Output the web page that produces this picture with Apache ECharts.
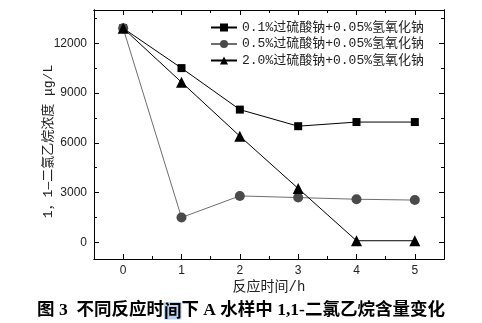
<!DOCTYPE html>
<html>
<head>
<meta charset="utf-8">
<script src="https://cdn.jsdelivr.net/npm/echarts@6/dist/echarts.min.js"></script>
<style>
  html, body { margin: 0; padding: 0; background: #fff; }
  #chart { width: 482px; height: 323px; }
</style>
</head>
<body>
<div id="chart"></div>
<script>
// Reaction time (h)
var hours = [0, 1, 2, 3, 4, 5];
// 1,1-dichloroethane concentration (μg/L) for each oxidant dose
var seriesNames = [
  '0.1%过硫酸钠+0.05%氢氧化钠',
  '0.5%过硫酸钠+0.05%氢氧化钠',
  '2.0%过硫酸钠+0.05%氢氧化钠'
];
var conc01 = [12900, 10500, 8000, 7000, 7250, 7250];
var conc05 = [12900, 1500, 2800, 2700, 2600, 2550];
var conc20 = [12900, 9650, 6400, 3250, 100, 100];
// Axis ticks
var xTicks = [0, 1, 2, 3, 4, 5];
var xMinorTicks = [-0.5, 0.5, 1.5, 2.5, 3.5, 4.5, 5.5];
var yTicks = [0, 3000, 6000, 9000, 12000];
var yMinorTicks = [1500, 4500, 7500, 10500, 13500];

function pairs(vals) {
  return hours.map(function (h, i) { return [h, vals[i]]; });
}

var axisFont = 'Liberation Sans, Arial, sans-serif';
var cjkFont = 'Liberation Mono, Noto Sans CJK SC, sans-serif';
var lineStyle = { color: '#000', width: 1 };

function frameAxis(base, extra) {
  return Object.assign({
    min: base.min, max: base.max, type: 'value',
    axisLine: { show: true, onZero: false, lineStyle: lineStyle },
    splitLine: { show: false },
    axisLabel: { show: false },
    axisTick: { show: false }
  }, extra);
}

var xr = { min: -0.5, max: 5.5 };
var yr = { min: -1000, max: 14000 };

var option = {
  animation: false,
  backgroundColor: '#fff',
  title: {
    left: 'center',
    top: 297,
    text: '{a|图 3  不同反应时}{hl|间}{a|下 A 水样中 1,1-二氯乙烷含量变化}',
    textStyle: {
      rich: {
        a: { fontSize: 17.5, fontWeight: 'bold', color: '#000',
             fontFamily: 'Liberation Serif, Noto Sans CJK SC, serif' },
        hl: { fontSize: 17.5, fontWeight: 'bold', color: '#000', backgroundColor: '#b9d1ea',
              fontFamily: 'Noto Sans CJK SC, sans-serif' }
      }
    }
  },
  grid: { left: 94, right: 38, top: 10, bottom: 64, containLabel: false },
  legend: {
    orient: 'vertical',
    left: 205,
    top: 16,
    itemWidth: 26,
    itemHeight: 10,
    itemGap: 3.5,
    textStyle: { fontSize: 13, color: '#222', fontFamily: cjkFont },
    data: seriesNames
  },
  xAxis: [
    frameAxis(xr, {
      position: 'bottom',
      name: '反应时间/h',
      nameLocation: 'middle',
      nameGap: 21,
      nameMoveOverlap: false,
      nameTextStyle: { fontSize: 14, color: '#222', fontFamily: cjkFont },
      axisTick: { show: true, inside: true, length: 5, lineStyle: lineStyle, customValues: xTicks },
      axisLabel: { show: true, margin: 6, fontSize: 12, color: '#222', fontFamily: axisFont, customValues: xTicks }
    }),
    frameAxis(xr, {
      position: 'bottom',
      axisTick: { show: true, inside: true, length: 3, lineStyle: lineStyle, customValues: xMinorTicks }
    }),
    frameAxis(xr, {
      position: 'top',
      axisTick: { show: true, inside: true, length: 5, lineStyle: lineStyle, customValues: xTicks }
    }),
    frameAxis(xr, {
      position: 'top',
      axisTick: { show: true, inside: true, length: 3, lineStyle: lineStyle, customValues: xMinorTicks }
    })
  ],
  yAxis: [
    frameAxis(yr, {
      position: 'left',
      name: '1，1—二氯乙烷浓度 μg/L',
      nameLocation: 'middle',
      nameGap: 39,
      nameMoveOverlap: false,
      nameTextStyle: { fontSize: 13, color: '#222', fontFamily: cjkFont, padding: [0, 14, 0, 0] },
      axisTick: { show: true, inside: true, length: 5, lineStyle: lineStyle, customValues: yTicks },
      axisLabel: {
        show: true, margin: 7, fontSize: 12, color: '#222', fontFamily: axisFont, customValues: yTicks,
        formatter: function (v) { return String(v); }
      }
    }),
    frameAxis(yr, {
      position: 'left',
      axisTick: { show: true, inside: true, length: 3, lineStyle: lineStyle, customValues: yMinorTicks }
    }),
    frameAxis(yr, {
      position: 'right',
      axisTick: { show: true, inside: true, length: 5, lineStyle: lineStyle, customValues: yTicks }
    }),
    frameAxis(yr, {
      position: 'right',
      axisTick: { show: true, inside: true, length: 3, lineStyle: lineStyle, customValues: yMinorTicks }
    })
  ],
  series: [
    {
      name: seriesNames[0], type: 'line', data: pairs(conc01),
      symbol: 'rect', symbolSize: 8,
      lineStyle: { color: '#000', width: 1 },
      itemStyle: { color: '#000' }
    },
    {
      name: seriesNames[1], type: 'line', data: pairs(conc05),
      symbol: 'circle', symbolSize: 10,
      lineStyle: { color: '#6e6e6e', width: 1 },
      itemStyle: { color: '#4a4a4a' }
    },
    {
      name: seriesNames[2], type: 'line', data: pairs(conc20),
      symbol: 'triangle', symbolSize: 11,
      lineStyle: { color: '#000', width: 1 },
      itemStyle: { color: '#000' }
    }
  ]
};

var chart = echarts.init(document.getElementById('chart'), null, { renderer: 'canvas' });
chart.setOption(option);
</script>
</body>
</html>
